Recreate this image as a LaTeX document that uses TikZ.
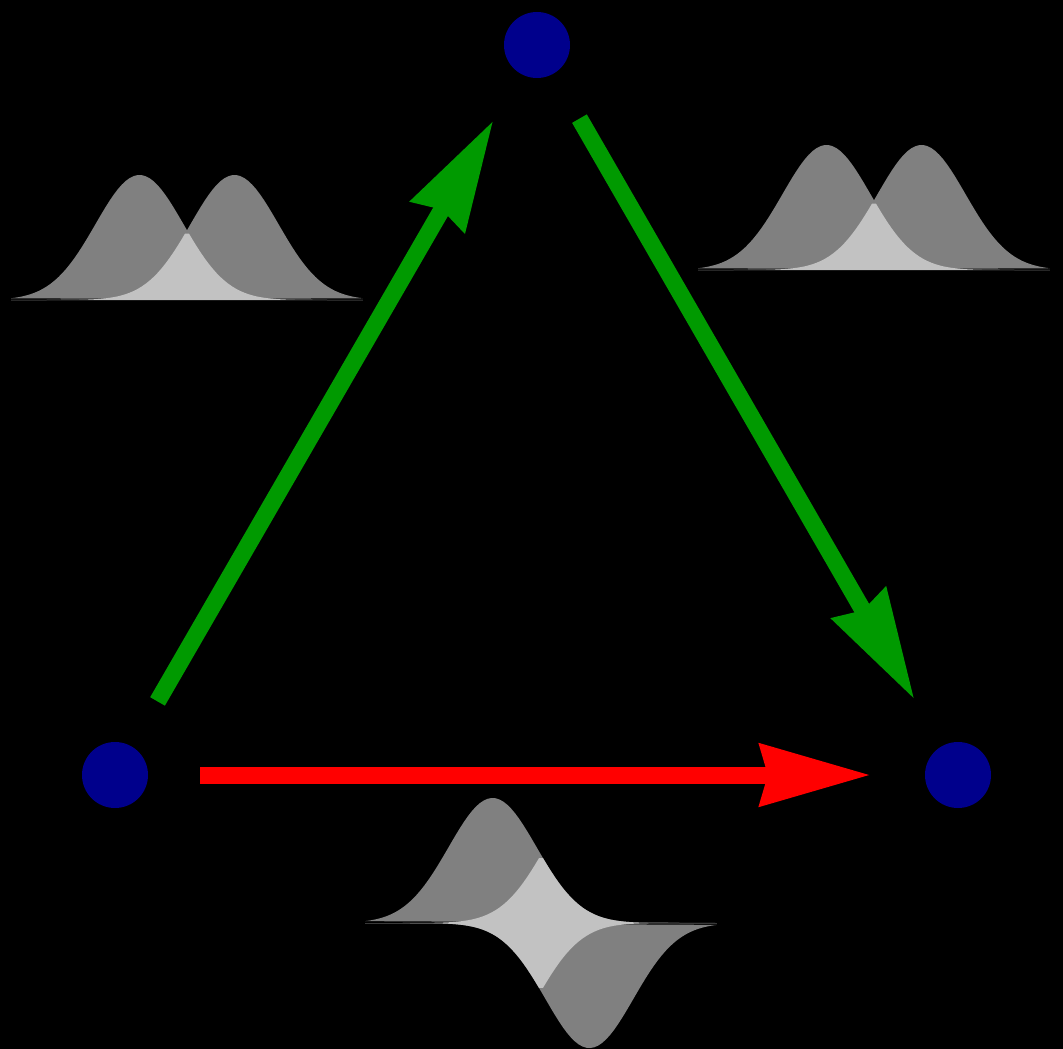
\documentclass[tikz,border=0pt]{standalone}
\usepackage{tikz}
\usetikzlibrary{arrows.meta,positioning,calc}
\usepackage{xcolor}
\definecolor{SiteBlue}{HTML}{00008C}
\definecolor{FwdGreen}{HTML}{009A00}
\definecolor{BumpDark}{HTML}{808080}
\definecolor{BumpLight}{HTML}{C2C2C2}
\newcommand{\BumpPair}[2]{%
  \fill[BumpDark] plot[domain=-4:4,samples=90] ({#1+44*\x},{#2-125*exp(-((\x+1.08)^2)/2)}) -- cycle;%
  \fill[BumpDark] plot[domain=-4:4,samples=90] ({#1+44*\x},{#2-125*exp(-((\x-1.08)^2)/2)}) -- cycle;%
  \fill[BumpLight] plot[domain=-4:4,samples=90] ({#1+44*\x},{#2-125*exp(-((abs(\x)+1.08)^2)/2)}) -- cycle;%
}
\newcommand{\BumpFlip}[2]{%
  \fill[BumpDark] plot[domain=-4:4,samples=90] ({#1+44*\x},{#2-125*exp(-((\x+1.1)^2)/2)}) -- cycle;%
  \fill[BumpDark] plot[domain=-4:4,samples=90] ({#1+44*\x},{#2+125*exp(-((\x-1.1)^2)/2)}) -- cycle;%
  \fill[BumpLight] plot[domain=-4:4,samples=90] ({#1+44*\x},{#2-125*exp(-((abs(\x)+1.1)^2)/2)}) -- cycle;%
  \fill[BumpLight] plot[domain=-4:4,samples=90] ({#1+44*\x},{#2+125*exp(-((abs(\x)+1.1)^2)/2)}) -- cycle;%
}

\begin{document}
\begin{tikzpicture}[x=1pt,y=-1pt,
  site/.style={circle,fill=SiteBlue,minimum size=66pt,inner sep=0pt,outer sep=0pt},
  link/.style={line width=17pt,-{Stealth[length=110pt,width=60pt,inset=7pt]},shorten <=52pt,shorten >=54pt},
  fwd/.style={link,draw=FwdGreen,fill=FwdGreen},
  direct/.style={link,draw=red,fill=red}]
\fill[black] (0,0) rectangle (1063,1049);
% overlap sketches
\BumpPair{187}{300}
\BumpPair{874}{270}
\BumpFlip{541}{923}
% the three states
\node[site] (top) at (537,45) {};
\node[site] (left) at (115,775) {};
\node[site] (right) at (958,775) {};
\draw[fwd] (left) -- (top);
\draw[fwd] (top) -- (right);
\draw[direct] (left) -- (right);
\end{tikzpicture}
\end{document}
